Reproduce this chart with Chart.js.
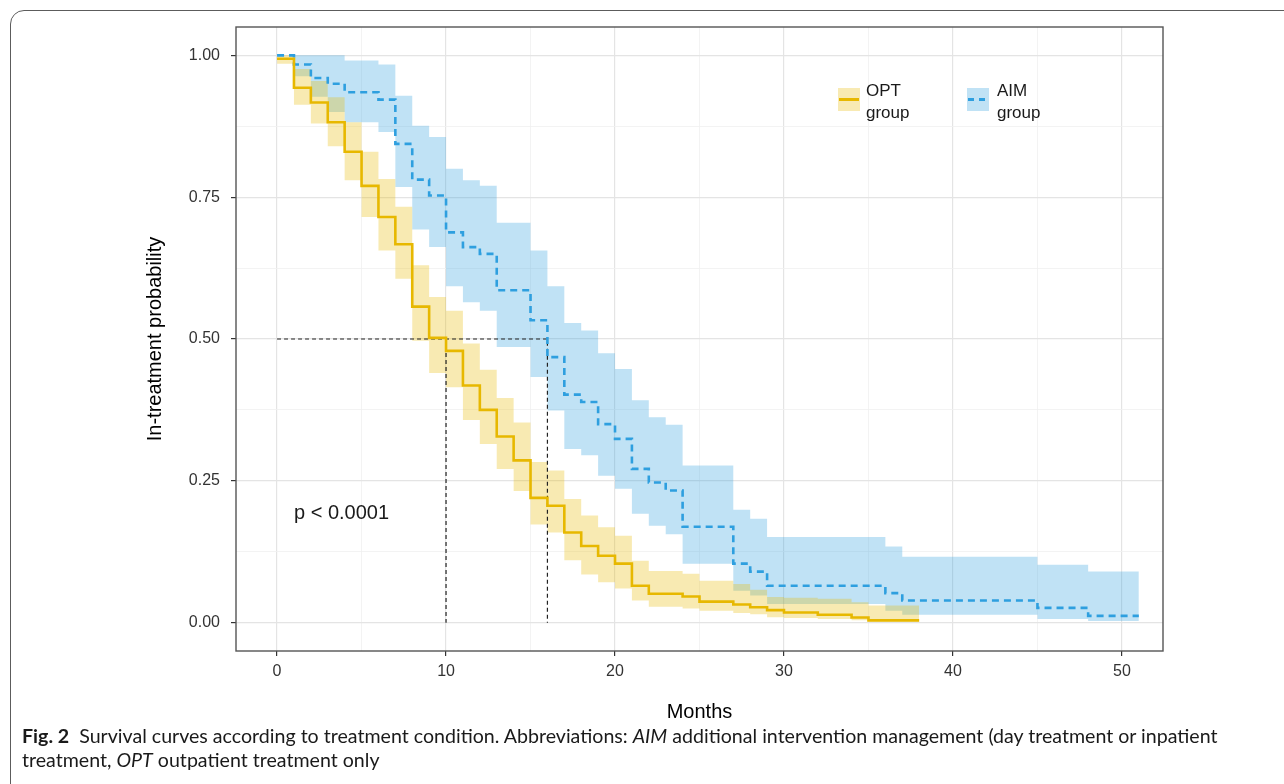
<!DOCTYPE html>
<html>
<head>
<meta charset="utf-8">
<script src="https://cdn.jsdelivr.net/npm/chart.js@4.4.1/dist/chart.umd.min.js"></script>
<style>
html,body{margin:0;padding:0;background:#fff;width:1284px;height:784px;overflow:hidden;font-family:"Liberation Sans",Arial,sans-serif;}
#frame{position:absolute;left:10px;top:10px;width:1320px;height:820px;border:1.5px solid #5c5c5c;border-radius:14px;box-sizing:border-box;}
#c{position:absolute;left:0;top:0;}
.key{position:absolute;top:88px;width:22px;height:23px;}
.key.opt{left:838px;background:rgb(248,234,179);}
.key.aim{left:967px;background:rgb(192,226,245);}
.key .ln{position:absolute;left:1px;right:1px;top:10px;height:2.6px;background:#E7B800;}
.key .d{position:absolute;top:10px;height:2.6px;width:6px;background:#2E9FDF;}
.lab{position:absolute;top:80px;font-size:17px;line-height:22px;color:#1a1a1a;}
#pval{position:absolute;left:294px;top:500px;font-size:20px;line-height:24px;color:#1a1a1a;}
#caption{position:absolute;left:22px;top:724px;font-family:Lato,"Noto Sans",sans-serif;font-size:19.6px;line-height:24px;color:#1a1a1a;white-space:nowrap;}
</style>
</head>
<body>
<div id="frame"></div>
<canvas id="c" width="1284" height="784"></canvas>
<div class="key opt"><div class="ln"></div></div>
<div class="lab" style="left:866px">OPT<br>group</div>
<div class="key aim"><div class="d" style="left:1px"></div><div class="d" style="left:12px"></div></div>
<div class="lab" style="left:997px">AIM<br>group</div>
<div id="pval">p &lt; 0.0001</div>
<div id="caption"><b>Fig. 2</b>&nbsp; Survival curves according to treatment condition. Abbreviations: <i>AIM</i> additional intervention management (day treatment or inpatient<br>treatment, <i>OPT</i> outpatient treatment only</div>
<script>
// ---- data ----
const optTimes = [0,1,2,3,4,5,6,7,8,9,10,11,12,13,14,15,16,17,18,19,20,21,22,24,25,27,28,29,30,32,34,35,38];
const optSurv  = [0.994,0.943,0.917,0.882,0.830,0.770,0.715,0.667,0.557,0.502,0.479,0.418,0.375,0.328,0.286,0.220,0.206,0.159,0.135,0.118,0.104,0.065,0.051,0.046,0.037,0.032,0.027,0.022,0.018,0.014,0.009,0.004,0.004];
const optUpper = [1.000,0.976,0.955,0.926,0.882,0.830,0.782,0.733,0.630,0.574,0.550,0.492,0.446,0.396,0.353,0.283,0.268,0.218,0.189,0.168,0.153,0.109,0.091,0.086,0.074,0.068,0.058,0.045,0.044,0.042,0.036,0.030,0.030];
const optLower = [0.985,0.913,0.880,0.840,0.780,0.715,0.656,0.606,0.497,0.440,0.415,0.357,0.315,0.271,0.232,0.173,0.159,0.110,0.085,0.071,0.060,0.039,0.028,0.025,0.021,0.017,0.015,0.0094,0.008,0.0065,0.004,0.0018,0.0018];

const aimTimes = [0,1,2,3,4,6,7,8,9,10,11,12,13,15,16,17,18,19,20,21,22,23,24,27,28,29,36,37,45,48,51];
const aimSurv  = [1.000,0.984,0.960,0.950,0.935,0.922,0.844,0.781,0.753,0.688,0.662,0.650,0.586,0.533,0.468,0.402,0.389,0.350,0.324,0.271,0.247,0.233,0.169,0.104,0.090,0.065,0.052,0.039,0.026,0.012,0.012];
const aimUpper = [1.000,1.000,1.000,1.000,0.991,0.984,0.929,0.876,0.856,0.800,0.780,0.770,0.705,0.656,0.593,0.528,0.515,0.475,0.447,0.392,0.362,0.349,0.277,0.199,0.183,0.151,0.134,0.116,0.102,0.090,0.090];
const aimLower = [1.000,0.963,0.927,0.900,0.882,0.865,0.768,0.693,0.662,0.593,0.565,0.550,0.486,0.433,0.374,0.306,0.295,0.259,0.236,0.192,0.171,0.156,0.104,0.056,0.048,0.033,0.021,0.014,0.0065,0.003,0.003];

const medianTimes = [10, 16];
const medianLevel = 0.5;

const xMajorTicks = [0,10,20,30,40,50];
const xMinorTicks = [5,15,25,35,45];
const yMajorTicks = [0,0.25,0.5,0.75,1];
const yMinorTicks = [0.125,0.375,0.625,0.875];

// ---- chart ----
const FONT = '"Liberation Sans", Arial, sans-serif';
Chart.defaults.font.family = FONT;
const pts = (xs, ys) => xs.map((x, i) => ({x: x, y: ys[i]}));
const OPT = '#E7B800', AIM = '#2E9FDF';
const OPT_FILL = 'rgba(231,184,0,0.30)', AIM_FILL = 'rgba(46,159,223,0.30)';
const NONE = 'rgba(0,0,0,0)';

const medianPts = [
  {x: 0, y: medianLevel}, {x: medianTimes[1], y: medianLevel}, {x: medianTimes[1], y: 0},
  {x: medianTimes[1], y: null},
  {x: medianTimes[0], y: medianLevel}, {x: medianTimes[0], y: 0}
];

const band = (data, fill, color) => ({
  data: data, stepped: 'before', borderWidth: 0, borderColor: NONE, pointRadius: 0,
  fill: fill, backgroundColor: color, order: 3
});

const panelBorder = {
  id: 'panelBorder',
  afterDraw(chart) {
    const {ctx, chartArea: a} = chart;
    ctx.save();
    ctx.strokeStyle = '#555';
    ctx.lineWidth = 1.4;
    ctx.strokeRect(a.left, a.top, a.right - a.left, a.bottom - a.top);
    ctx.restore();
  }
};

const gridOpts = (major) => ({
  color: c => (c.tick && major.includes(c.tick.value)) ? '#e4e4e4' : '#f0f0f0',
  lineWidth: c => (c.tick && major.includes(c.tick.value)) ? 1.2 : 0.8,
  tickColor: c => (c.tick && major.includes(c.tick.value)) ? '#333' : NONE,
  tickLength: 5,
  tickWidth: 1.2,
  drawTicks: true
});

new Chart(document.getElementById('c'), {
  type: 'line',
  data: {
    datasets: [
      { label: 'OPT group', data: pts(optTimes, optSurv), stepped: 'before', borderColor: OPT,
        borderWidth: 2.6, pointRadius: 0, fill: false, order: 0 },
      { label: 'AIM group', data: pts(aimTimes, aimSurv), stepped: 'before', borderColor: AIM,
        borderWidth: 2.6, borderDash: [7, 5], pointRadius: 0, fill: false, order: 0 },
      { label: 'median', data: medianPts, borderColor: '#222', borderWidth: 1.2, borderDash: [4, 3],
        pointRadius: 0, fill: false, spanGaps: false, order: 1 },
      band(pts(optTimes, optUpper), '+1', OPT_FILL),
      band(pts(optTimes, optLower), false, NONE),
      band(pts(aimTimes, aimUpper), '+1', AIM_FILL),
      band(pts(aimTimes, aimLower), false, NONE)
    ]
  },
  options: {
    responsive: false,
    animation: false,
    devicePixelRatio: 1,
    layout: { padding: { left: 0, top: 27, right: 121, bottom: 0 } },
    plugins: { legend: { display: false }, tooltip: { enabled: false } },
    scales: {
      x: {
        type: 'linear', min: -2.43, max: 52.43,
        afterBuildTicks: s => { s.ticks = xMajorTicks.concat(xMinorTicks).sort((a, b) => a - b).map(v => ({value: v})); },
        afterFit: s => { s.height = 133; },
        ticks: { autoSkip: false, maxRotation: 0, padding: 6, color: '#333', font: { size: 16 },
          callback: v => xMajorTicks.includes(v) ? String(v) : '' },
        grid: gridOpts(xMajorTicks),
        border: { display: false },
        title: { display: true, text: 'Months', color: '#000', font: { size: 20 }, padding: { top: 0, bottom: 60 } }
      },
      y: {
        type: 'linear', min: -0.05, max: 1.05,
        afterBuildTicks: s => { s.ticks = yMajorTicks.concat(yMinorTicks).sort((a, b) => a - b).map(v => ({value: v})); },
        afterFit: s => { s.width = 236; },
        ticks: { autoSkip: false, padding: 11, color: '#333', font: { size: 16 },
          callback: v => yMajorTicks.includes(v) ? v.toFixed(2) : '' },
        grid: gridOpts(yMajorTicks),
        border: { display: false },
        title: { display: true, text: 'In-treatment probability', color: '#000', font: { size: 20 }, padding: { top: 143, bottom: 0 } }
      }
    }
  },
  plugins: [panelBorder]
});
</script>
</body>
</html>
